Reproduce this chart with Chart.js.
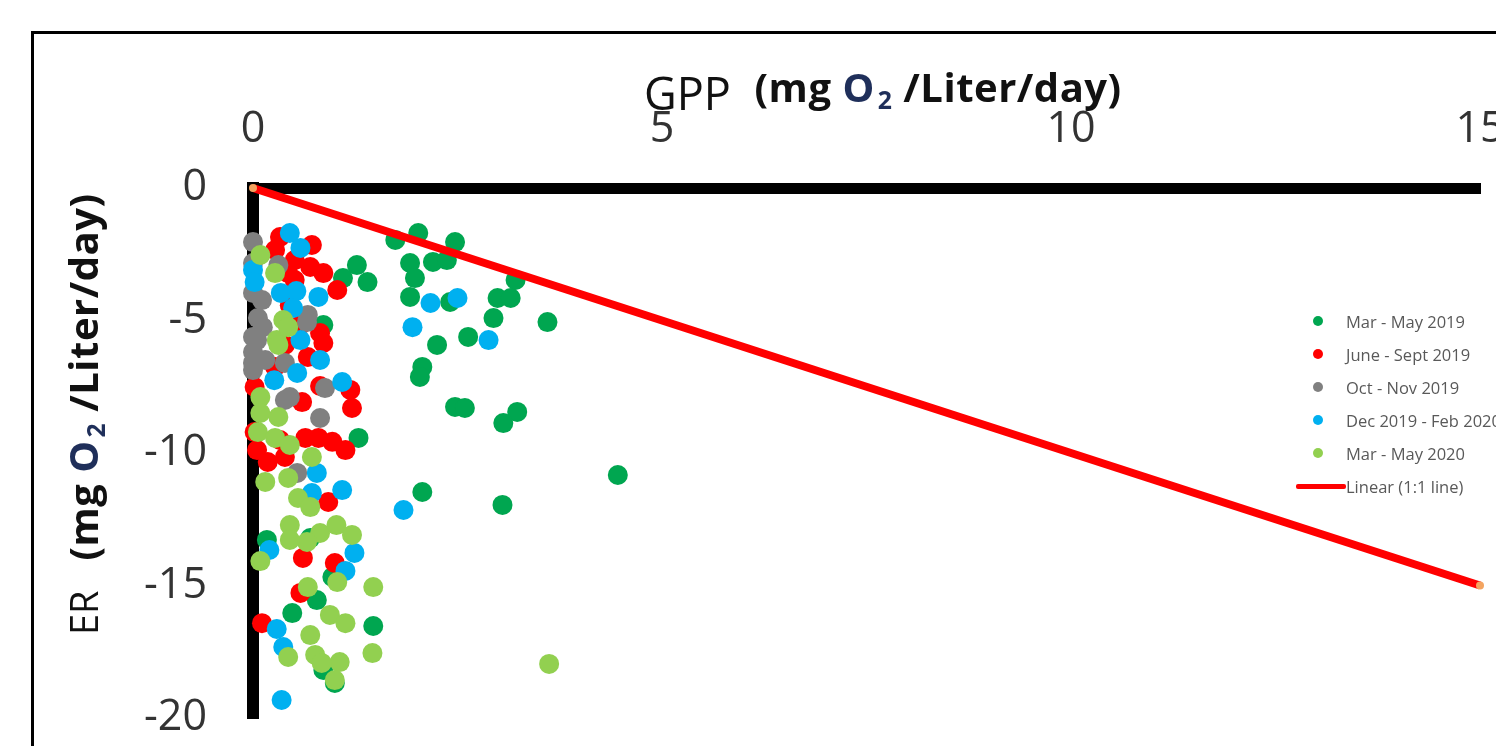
<!DOCTYPE html>
<html>
<head>
<meta charset="utf-8">
<script src="https://cdn.jsdelivr.net/npm/chart.js@4"></script>
<style>
  html, body { margin: 0; padding: 0; background: #fff; overflow: hidden; }
  #wrap { position: relative; width: 1496px; height: 746px; }
  #frame { position: absolute; left: 31px; top: 31px; width: 1600px; height: 800px;
           border-top: 3px solid #000; border-left: 3px solid #000; }
  canvas { position: absolute; left: 0; top: 0; }
  .ttl { position: absolute; font-family: 'Open Sans', sans-serif; color: #111; white-space: nowrap; }
  .ttl b { font-weight: 700; position: relative; }
  .ttl .o2 { color: #1F2F5A; }
  .ttl sub { font-size: 62%; vertical-align: -0.3em; margin-left: 3px; }
  #xtitle { left: 644px; top: 62px; font-size: 45px; }
  #xtitle b { font-size: 40px; letter-spacing: 0.5px; top: -8px; margin-left: 12px; }
  #ytitle { left: 55px; top: 635px; font-size: 38px; transform-origin: 0 0; transform: rotate(-90deg); }
  #ytitle b { font-size: 40px; letter-spacing: 0.5px; margin-left: 20px; }
  #legend { position: absolute; left: 1296px; top: 305px; font-family: 'Open Sans', sans-serif;
            font-size: 16.5px; color: #595959; }
  .lg { position: relative; height: 33px; line-height: 33px; white-space: nowrap; }
  .lg .dot { position: absolute; left: 17px; top: 11px; width: 10px; height: 10px; border-radius: 50%; }
  .lg .ln { position: absolute; left: 0; top: 14px; width: 50px; height: 5px; background: #FF0000; border-radius: 2px; }
  .lg span.t { position: absolute; left: 50px; }
</style>
</head>
<body>
<div id="wrap">
  <canvas id="chart" width="1496" height="746"></canvas>
  <div id="frame"></div>
  <div id="xtitle" class="ttl">GPP <b>(mg <span class="o2">O<sub>2</sub></span> /Liter/day)</b></div>
  <div id="ytitle" class="ttl">ER <b>(mg <span class="o2">O<sub>2</sub></span> /Liter/day)</b></div>
  <div id="legend"></div>
</div>
<script>
const seriesNames = ['Mar - May 2019', 'June - Sept 2019', 'Oct - Nov 2019', 'Dec 2019 - Feb 2020', 'Mar - May 2020'];
const seriesColors = ['#00A650', '#FF0000', '#808080', '#00B0F0', '#92D050'];
const lineName = 'Linear (1:1 line)';

const xTicks = [0, 5, 10, 15];
const yTicks = [0, -5, -10, -15, -20];

// GPP, ER pairs
const marMay2019 = [
  [1.74, -1.96], [2.02, -1.70], [2.47, -2.04], [1.92, -2.83], [2.20, -2.79], [2.37, -2.72],
  [1.98, -3.40], [1.92, -4.11], [3.21, -3.47], [2.99, -4.15], [3.15, -4.15], [2.41, -4.30],
  [2.94, -4.91], [3.60, -5.06], [2.63, -5.62], [2.25, -5.92], [2.07, -6.75], [2.04, -7.13],
  [2.47, -8.26], [2.59, -8.30], [3.23, -8.45], [3.06, -8.87], [4.46, -10.83], [2.07, -11.47],
  [3.05, -11.96], [1.27, -2.91], [1.10, -3.40], [1.40, -3.55], [0.86, -5.17], [1.29, -9.43],
  [0.17, -13.28], [0.70, -13.21], [0.97, -14.68], [0.78, -15.55], [0.48, -16.04], [1.47, -16.53],
  [0.86, -18.19], [1.00, -18.68]
];
const juneSept2019 = [
  [0.33, -1.85], [0.72, -2.15], [0.51, -2.72], [0.70, -2.98], [0.86, -3.21], [1.03, -3.85],
  [0.43, -3.21], [0.51, -3.47], [0.27, -2.34], [0.86, -5.85], [0.82, -5.47], [0.82, -7.47],
  [1.19, -7.62], [1.21, -8.30], [0.60, -8.08], [0.02, -7.51], [0.27, -6.75], [0.67, -6.38],
  [0.45, -4.42], [0.58, -5.17], [0.39, -5.92], [0.02, -9.21], [0.05, -9.89], [0.18, -10.34],
  [0.39, -10.15], [0.64, -9.43], [0.80, -9.43], [0.97, -9.58], [1.13, -9.89], [0.92, -11.85],
  [0.61, -13.96], [1.00, -14.15], [0.58, -15.28], [0.11, -16.42], [0.33, -9.51]
];
const octNov2019 = [
  [0.00, -2.04], [0.00, -2.83], [0.31, -2.91], [0.00, -3.96], [0.11, -4.23], [0.67, -4.79],
  [0.06, -4.91], [0.05, -5.74], [0.12, -5.25], [0.00, -5.62], [0.00, -6.87], [0.15, -6.49],
  [0.39, -6.60], [0.45, -7.89], [0.88, -7.55], [0.82, -8.68], [0.66, -5.06], [0.00, -6.60],
  [0.39, -8.00], [0.54, -10.75], [0.00, -6.19]
];
const decFeb2020 = [
  [0.45, -1.70], [0.58, -2.26], [0.00, -3.09], [0.02, -3.55], [0.34, -3.96], [0.53, -3.89],
  [0.80, -4.11], [0.49, -4.53], [0.58, -5.74], [0.82, -6.49], [0.26, -7.25], [0.54, -6.98],
  [1.09, -7.32], [0.78, -10.75], [1.09, -11.40], [0.72, -11.51], [1.84, -12.15], [0.20, -13.66],
  [1.24, -13.77], [1.13, -14.45], [0.29, -16.64], [0.37, -17.32], [0.35, -19.32], [2.17, -4.34],
  [2.50, -4.15], [1.95, -5.25], [2.88, -5.74]
];
const marMay2020 = [
  [0.09, -2.53], [0.27, -3.21], [0.37, -4.98], [0.29, -5.74], [0.31, -5.92], [0.43, -5.25],
  [0.09, -7.89], [0.09, -8.49], [0.31, -8.64], [0.06, -9.21], [0.27, -9.43], [0.45, -9.70],
  [0.72, -10.15], [0.15, -11.09], [0.43, -10.94], [0.55, -11.70], [0.70, -12.04], [0.45, -12.72],
  [0.82, -13.02], [1.02, -12.72], [1.21, -13.09], [0.66, -13.36], [0.45, -13.28], [0.09, -14.08],
  [0.67, -15.06], [1.03, -14.87], [1.47, -15.06], [0.94, -16.11], [1.13, -16.42], [0.70, -16.87],
  [0.43, -17.70], [0.76, -17.62], [1.06, -17.89], [1.00, -18.57], [1.46, -17.55], [0.84, -17.92],
  [3.62, -17.96]
];
const oneToOne = [[0, 0], [15, -15]];

const seriesData = [marMay2019, juneSept2019, octNov2019, decFeb2020, marMay2020];
const toPts = arr => arr.map(p => ({ x: p[0], y: p[1] }));

const datasets = seriesData.map((d, i) => ({
  type: 'scatter',
  label: seriesNames[i],
  data: toPts(d),
  backgroundColor: seriesColors[i],
  borderWidth: 0,
  pointRadius: 10,
  pointHoverRadius: 10,
  clip: false,
  order: 10 - i
}));
datasets.push({
  type: 'line',
  label: lineName,
  data: toPts(oneToOne),
  borderColor: '#FF0000',
  borderWidth: 8,
  pointRadius: 4,
  pointBackgroundColor: '#F4A460',
  pointBorderWidth: 0,
  clip: false,
  order: 0
});

const tickFont = { family: "'Open Sans', sans-serif", size: 43 };

new Chart(document.getElementById('chart'), {
  data: { datasets },
  options: {
    responsive: false,
    animation: false,
    devicePixelRatio: 1,
    layout: { padding: { left: 0, top: 0, right: 16, bottom: 28 } },
    plugins: { legend: { display: false }, tooltip: { enabled: false } },
    scales: {
      x: {
        type: 'linear', position: 'top', min: 0, max: 15,
        afterBuildTicks: s => { s.ticks = xTicks.map(v => ({ value: v })); },
        afterFit: s => { s.height = 188; s.paddingLeft = 0; s.paddingRight = 0; },
        grid: { display: false, drawTicks: false },
        border: { display: true, color: '#000', width: 11 },
        ticks: { padding: 32, color: '#333', font: tickFont, maxRotation: 0 }
      },
      y: {
        type: 'linear', position: 'left', min: -20, max: 0,
        afterBuildTicks: s => { s.ticks = yTicks.map(v => ({ value: v })); },
        afterFit: s => { s.width = 253; s.paddingTop = 0; s.paddingBottom = 0; },
        grid: { display: false, drawTicks: false },
        border: { display: true, color: '#000', width: 12 },
        ticks: { padding: 46, color: '#333', font: tickFont }
      }
    }
  }
});

// legend inside the plot, like the original
const lg = document.getElementById('legend');
seriesNames.forEach((n, i) => {
  const row = document.createElement('div');
  row.className = 'lg';
  row.innerHTML = '<span class="dot" style="background:' + seriesColors[i] + '"></span><span class="t">' + n + '</span>';
  lg.appendChild(row);
});
const lrow = document.createElement('div');
lrow.className = 'lg';
lrow.innerHTML = '<span class="ln"></span><span class="t">' + lineName + '</span>';
lg.appendChild(lrow);
</script>
</body>
</html>
